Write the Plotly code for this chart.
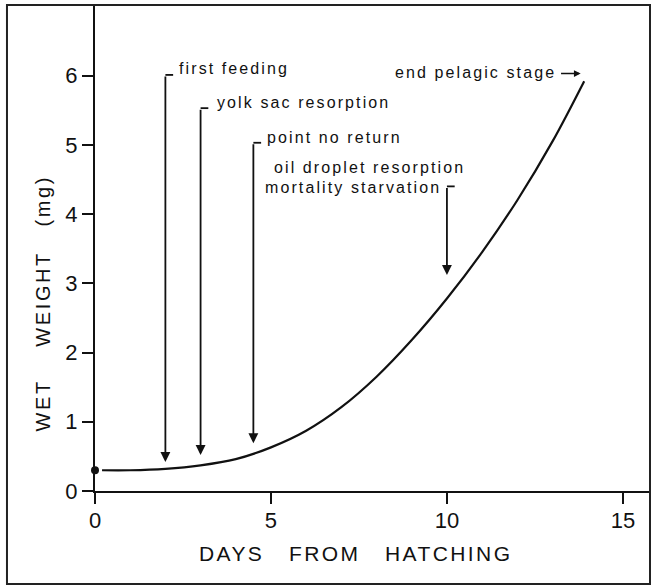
import plotly.graph_objects as go

# growth curve
days = [0.2, 1.0, 2.0, 3.0, 4.0, 5.0, 6.0, 7.0, 8.0, 9.0, 10.0, 11.0, 12.0, 13.0, 13.9]
weight = [0.30, 0.30, 0.32, 0.37, 0.46, 0.63, 0.87, 1.21, 1.65, 2.18, 2.78, 3.45, 4.20, 5.05, 5.92]

# hatching point
start_day = [0]
start_weight = [0.30]

# events marked with arrows
event_day = [2.0, 3.0, 4.5, 10.0]
event_top = [6.01, 5.53, 5.03, 4.40]
event_tip = [0.42, 0.52, 0.69, 3.12]

x_ticks = [0, 5, 10, 15]
y_ticks = [0, 1, 2, 3, 4, 5, 6]

FONT = "Liberation Sans"
TXT = dict(family=FONT, size=16, color="#111")
NB = "&nbsp;"


def spaced(s, px=2.1):
    return f'<span style="letter-spacing:{px}px">{s}</span>'


fig = go.Figure()

fig.add_trace(go.Scatter(
    x=days, y=weight, mode="lines", line=dict(color="#111", width=2.2, shape="spline"),
    showlegend=False, hoverinfo="skip"
))
fig.add_trace(go.Scatter(
    x=start_day, y=start_weight, mode="markers", marker=dict(color="#111", size=8),
    cliponaxis=False, showlegend=False
))

# arrows + small hooks at the top of each arrow
for d, top, tip in zip(event_day, event_top, event_tip):
    fig.add_annotation(
        x=d, y=tip, ax=d, ay=top, axref="x", ayref="y", xref="x", yref="y",
        text="", showarrow=True, arrowhead=2, arrowsize=1.1, arrowwidth=1.8, arrowcolor="#111"
    )
    fig.add_shape(type="line", x0=d, x1=d + 0.22, y0=top, y1=top,
                  line=dict(color="#111", width=1.8))

labels = [
    ("first feeding", 2.33, 6.10),
    ("yolk sac resorption", 3.41, 5.61),
    ("point no return", 4.83, 5.10),
    ("oil droplet resorption", 5.03, 4.68),
    ("mortality starvation", 4.77, 4.38),
    ("end pelagic stage", 8.47, 6.04),
]
for t, lx, ly in labels:
    fig.add_annotation(x=lx, y=ly, xref="x", yref="y", text=spaced(t), showarrow=False,
                       xanchor="left", yanchor="middle", font=TXT)

# short arrow after "end pelagic stage"
fig.add_annotation(x=13.8, y=6.03, ax=13.2, ay=6.03, axref="x", ayref="y", xref="x", yref="y",
                   text="", showarrow=True, arrowhead=2, arrowsize=0.9, arrowwidth=1.5,
                   arrowcolor="#111")

# axis titles
fig.add_annotation(x=0.469, y=-0.1285, xref="paper", yref="paper",
                   xanchor="center", yanchor="middle",
                   text=spaced(f"DAYS{NB * 3}FROM{NB * 3}HATCHING", 2.4), showarrow=False,
                   font=dict(family=FONT, size=21, color="#111"))
fig.add_annotation(x=-0.0935, y=0.386, xref="paper", yref="paper", textangle=-90,
                   xanchor="center", yanchor="middle",
                   text=spaced(f"WET{NB * 4}WEIGHT{NB * 3}(mg)", 2.6), showarrow=False,
                   font=dict(family=FONT, size=20, color="#111"))

# outer frame
fig.add_shape(type="rect", xref="paper", yref="paper", x0=-0.1586, x1=1.0, y0=-0.1914, y1=1.0,
              line=dict(color="#222", width=2))

fig.update_xaxes(
    range=[0, 15.77], tickvals=x_ticks, showgrid=False, zeroline=False,
    showline=True, linecolor="#111", linewidth=2, ticks="outside", ticklen=11, tickwidth=2,
    tickcolor="#111", tickfont=dict(family=FONT, size=22, color="#111"), ticklabelstandoff=-2
)
fig.update_yaxes(
    range=[0, 7.02], tickvals=y_ticks, showgrid=False, zeroline=False,
    showline=True, linecolor="#111", linewidth=2, ticks="outside", ticklen=11, tickwidth=2,
    tickcolor="#111", tickfont=dict(family=FONT, size=22, color="#111")
)
fig.update_layout(
    width=652, height=587,
    margin=dict(l=95, r=2, t=5, b=96),
    plot_bgcolor="white", paper_bgcolor="white",
    showlegend=False
)

fig.write_html("out.html", config={"displayModeBar": False},
               post_script="document.body.style.margin = '0';")
